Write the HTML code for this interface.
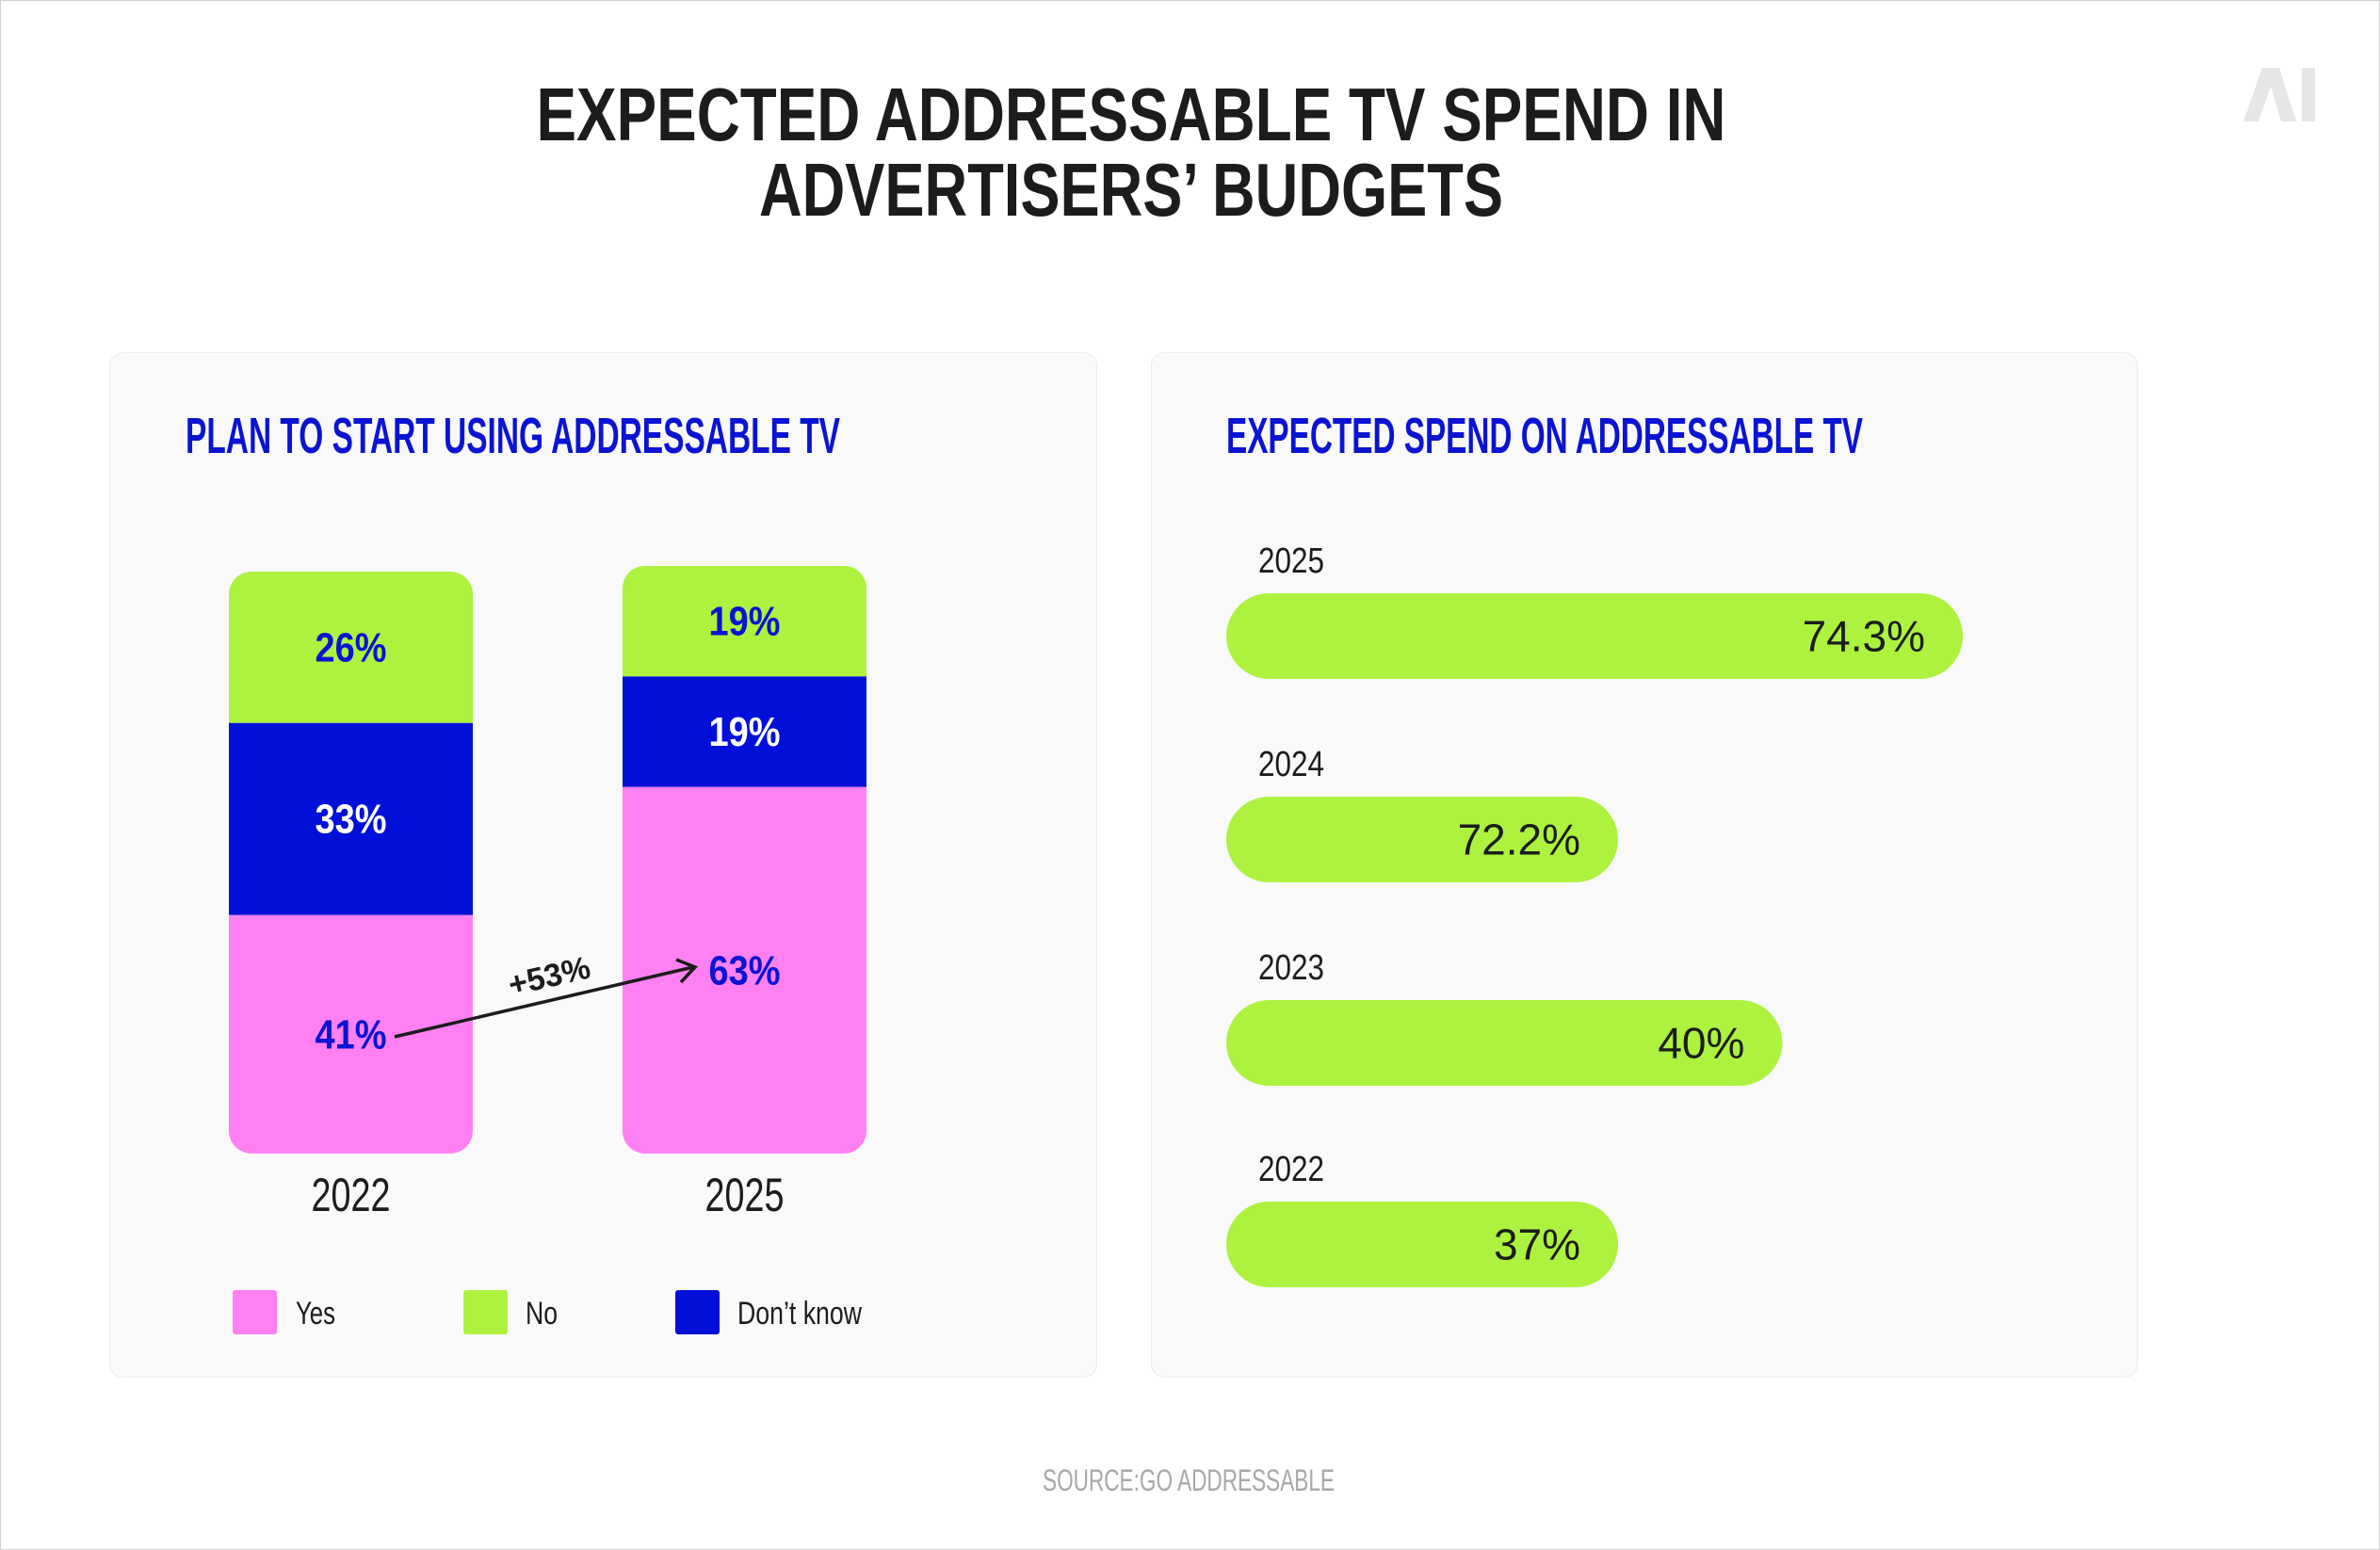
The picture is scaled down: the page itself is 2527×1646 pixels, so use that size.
<!DOCTYPE html>
<html><head><meta charset="utf-8"><style>
html,body{margin:0;padding:0;background:#fff}
svg{display:block}
text{font-family:"Liberation Sans",sans-serif}
</style></head><body>
<svg id="c" width="2527" height="1646" viewBox="0 0 2527 1646" xmlns="http://www.w3.org/2000/svg">
<rect x="0.5" y="0.5" width="2526" height="1645" fill="#fff" stroke="#d0d0d0"/>
<text x="1201" y="149" font-size="80" font-weight="bold" text-anchor="middle" fill="#1c1c1c" textLength="1263" lengthAdjust="spacingAndGlyphs">EXPECTED ADDRESSABLE TV SPEND IN</text>
<text x="1201" y="229" font-size="80" font-weight="bold" text-anchor="middle" fill="#1c1c1c" textLength="790" lengthAdjust="spacingAndGlyphs">ADVERTISERS’ BUDGETS</text>
<g fill="#e6e6e6">
<polygon points="2382,129 2402,72 2420,72 2438,129 2422,129 2411,92 2398,129"/>
<rect x="2444" y="72" width="14" height="57"/>
</g>
<rect x="116.5" y="374.5" width="1048" height="1088" rx="14" fill="#f9f9f9" stroke="#ececec"/>
<rect x="1222.5" y="374.5" width="1047" height="1088" rx="14" fill="#f9f9f9" stroke="#ececec"/>
<text x="197" y="481" font-size="54" font-weight="bold" fill="#0a14d2" textLength="695" lengthAdjust="spacingAndGlyphs">PLAN TO START USING ADDRESSABLE TV</text>
<text x="1302" y="481" font-size="54" font-weight="bold" fill="#0a14d2" textLength="676" lengthAdjust="spacingAndGlyphs">EXPECTED SPEND ON ADDRESSABLE TV</text>
<g id="stack"></g>
<g id="hbars"></g>
<g>
<line x1="419" y1="1101" x2="736" y2="1027" stroke="#1c1c1c" stroke-width="3.5"/>
<polyline points="718,1019 738,1027 723,1043" fill="none" stroke="#1c1c1c" stroke-width="3.5"/>
<text x="583" y="1048" font-size="34" font-weight="bold" fill="#1c1c1c" text-anchor="middle" transform="rotate(-13 583 1036)">+53%</text>
</g>
<text x="1262" y="1583" font-size="32" fill="#a8a8a8" text-anchor="middle" textLength="310" lengthAdjust="spacingAndGlyphs">SOURCE:GO ADDRESSABLE</text>
</svg>
<script>
const stackYears = ['2022','2025'];
const yesVals = [41, 63];
const dkVals = [33, 19];
const noVals = [26, 19];
const spendYears = ['2025','2024','2023','2022'];
const spendVals = [74.3, 72.2, 40, 37];
const spendLabels = ['74.3%','72.2%','40%','37%'];
const barShare = [100, 53.2, 75.5, 53.2];

const NS='http://www.w3.org/2000/svg';
function mk(tag, attrs, parent){const e=document.createElementNS(NS,tag);for(const k in attrs)e.setAttribute(k,attrs[k]);parent.appendChild(e);return e;}
const stack=document.getElementById('stack');
const bottom=1225, pxPer=6.18;
const yS=v=>bottom-v*pxPer;
const colX=[243,661], colW=259;
const defs=mk('defs',{},stack);
stackYears.forEach((yr,i)=>{
  const x=colX[i];
  const total=yesVals[i]+dkVals[i]+noVals[i];
  const cp=mk('clipPath',{id:'cp'+i},defs);
  mk('rect',{x:x,y:yS(total),width:colW,height:total*pxPer,rx:24},cp);
  const g=mk('g',{'clip-path':'url(#cp'+i+')'},stack);
  
  
  const segs=[[yesVals[i],0,'#ff80f2','#0a14d2','yes'],[dkVals[i],yesVals[i],'#0010d8','#ffffff','dont-know'],[noVals[i],yesVals[i]+dkVals[i],'#adf23f','#0a14d2','no']];
  segs.forEach(s=>{
    const r=mk('rect',{x:x,y:yS(s[1]+s[0]),width:colW,height:s[0]*pxPer,fill:s[2]},g);
    
    
  });
  segs.forEach(s=>{
    const t=mk('text',{x:x+colW/2,y:yS(s[1]+s[0]/2)+15,'font-size':44,'font-weight':'bold','text-anchor':'middle',fill:s[3],textLength:76,lengthAdjust:'spacingAndGlyphs'},stack);
    t.textContent=s[0]+'%';
    
    
  });
  const yl=mk('text',{x:x+colW/2,y:1286,'font-size':50,'text-anchor':'middle',fill:'#1c1c1c',textLength:84,lengthAdjust:'spacingAndGlyphs'},stack);
  yl.textContent=yr;
  
  
});
const legend=[['Yes','#ff80f2',247,314,42],['No','#adf23f',492,558,34],['Don’t know','#0010d8',717,783,132]];
legend.forEach(l=>{
  const r=mk('rect',{x:l[2],y:1370,width:47,height:47,rx:3,fill:l[1]},stack);
  
  
  const t=mk('text',{x:l[3],y:1406,'font-size':34,fill:'#1c1c1c',textLength:l[4],lengthAdjust:'spacingAndGlyphs'},stack);
  t.textContent=l[0];
  
  
});
const hb=document.getElementById('hbars');
const x0=1302, fullLen=782;
const xS=v=>v/100*fullLen;
const rowY=[630,846,1062,1276], barH=91;
spendYears.forEach((yr,i)=>{
  const w=xS(barShare[i]);
  const yl=mk('text',{x:1336,y:rowY[i]-22,'font-size':38,fill:'#1c1c1c',textLength:70,lengthAdjust:'spacingAndGlyphs'},hb);
  yl.textContent=yr;
  
  
  const r=mk('rect',{x:x0,y:rowY[i],width:w,height:barH,rx:45.5,fill:'#adf23f'},hb);
  
  
  const t=mk('text',{x:x0+w-40,y:rowY[i]+barH/2+16,'font-size':46,'text-anchor':'end',fill:'#1c1c1c'},hb);
  t.textContent=spendLabels[i];
  
  
});
</script>
</body></html>
